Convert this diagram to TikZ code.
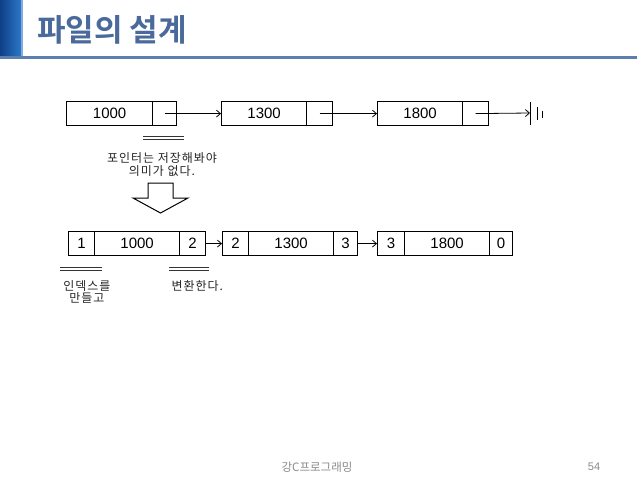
\documentclass[tikz,border=0pt]{standalone}
\usepackage{fontspec}
\setmainfont{Liberation Sans}
\newfontfamily\kr{Noto Sans CJK KR}
\newfontfamily\krsp[LetterSpace=8]{Noto Sans CJK KR}
\newfontfamily\krb{Noto Sans CJK KR Bold}
\usetikzlibrary{arrows.meta}
\definecolor{titleblue}{HTML}{4A6A9C}
\definecolor{rulecol}{HTML}{5A7FB0}
\definecolor{bardark}{HTML}{0F3F86}
\definecolor{barlight}{HTML}{2A78C8}
\definecolor{foot}{HTML}{8A8A8A}
\tikzset{
  cell/.style={draw, line width=1.2pt, inner sep=0pt, anchor=north west, minimum height=24pt, font=\fontsize{15}{17}\selectfont},
  link/.style={line width=0.8pt, -{Straight Barb[length=4pt,width=7pt]}},
  uline/.style={draw=black!80, line width=0.8pt},
  lab/.style={font=\krsp\fontsize{12}{12.8}\selectfont, align=center, text=black!85},
}
\begin{document}
\begin{tikzpicture}[x=1pt,y=-1pt]
\useasboundingbox (0,0) rectangle (638,479);
\fill[white] (0,0) rectangle (638,479);
% title bar
\shade[left color=bardark, right color=barlight] (0,0) rectangle (21,57);
\fill[barlight!60!white] (21,0) rectangle (23,57);
\fill[rulecol] (0,56) rectangle (637,58.5);
\node[anchor=west, text=titleblue, font=\krb\fontsize{31}{34}\selectfont, inner sep=0pt] (title) at (37,30) {파일의 설계};
% top row
\node[cell, minimum width=86pt] (t1) at (66,101) {1000};
\node[cell, minimum width=24pt] (p1) at (152,101) {};
\node[cell, minimum width=85pt] (t2) at (221,101) {1300};
\node[cell, minimum width=26pt] (p2) at (306,101) {};
\node[cell, minimum width=85pt] (t3) at (377,101) {1800};
\node[cell, minimum width=26pt] (p3) at (462,101) {};
\coordinate (g) at (530,113);
\draw[link] (p1.center) -- (t2.west);
\draw[link] (p2.center) -- (t3.west);
\draw[link] (p3.center) -- (g);
\draw[line width=0.9pt] (530,102) -- (530,125);
\draw[line width=0.9pt] (537,107) -- (537,120);
\draw[line width=0.9pt] (542.5,110.5) -- (542.5,117.5);
% double line under pointer
\draw[uline] (143,136) -- (184,136);
\draw[uline] (143,139.5) -- (184,139.5);
\node[lab] (note1) at (162,164.5) {포인터는 저장해봐야\\의미가 없다.};
% hollow arrow
\draw[line width=1pt, fill=white] (148,183) -- (173,183) -- (173,198) -- (188,198) -- (160.5,213) -- (133,198) -- (148,198) -- cycle;
% bottom row
\node[cell, minimum width=26pt] (a1) at (68,231) {1};
\node[cell, minimum width=85pt] (a2) at (94,231) {1000};
\node[cell, minimum width=26pt] (a3) at (179,231) {2};
\node[cell, minimum width=26pt] (b1) at (222,231) {2};
\node[cell, minimum width=85pt] (b2) at (248,231) {1300};
\node[cell, minimum width=24pt] (b3) at (333,231) {3};
\node[cell, minimum width=27pt] (c1) at (377,231) {3};
\node[cell, minimum width=85pt] (c2) at (404,231) {1800};
\node[cell, minimum width=23pt] (c3) at (489,231) {0};
\draw[link] (a3.east) -- (b1.west);
\draw[link] (b3.east) -- (c1.west);
% double lines under bottom row
\draw[uline] (60,267) -- (102,267);
\draw[uline] (60,270) -- (102,270);
\draw[uline] (169,267) -- (209,267);
\draw[uline] (169,270) -- (209,270);
\node[lab] (note2) at (87,292) {인덱스를\\만들고};
\node[lab, anchor=west] (note3) at (168,286) {변환한다.};
% footer
\node[font=\kr\fontsize{11.5}{13}\selectfont, text=foot] (foot1) at (317,467) {강C프로그래밍};
\node[font=\fontsize{11}{13}\selectfont, text=foot] (foot2) at (594,467) {54};
\end{tikzpicture}
\end{document}
